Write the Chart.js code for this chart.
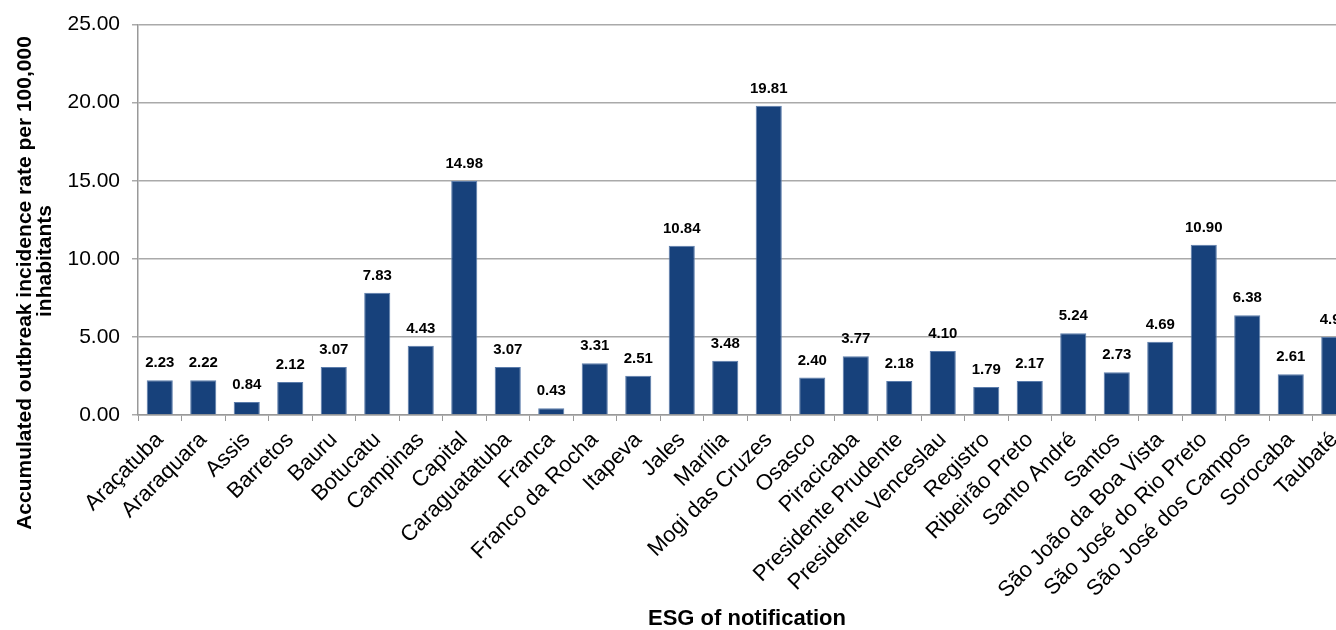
<!DOCTYPE html>
<html>
<head>
<meta charset="utf-8">
<script src="https://cdn.jsdelivr.net/npm/chart.js@4/dist/chart.umd.min.js"></script>
<style>
  html, body { margin: 0; padding: 0; background: #fff; overflow: hidden; }
  #wrap { position: relative; width: 1366px; height: 630px; }
</style>
</head>
<body>
<div id="wrap"><canvas id="myChart"></canvas></div>
<script>
// Regiões (ESG) e taxa acumulada por 100.000 habitantes
var regioes = [
  "Araçatuba", "Araraquara", "Assis", "Barretos", "Bauru", "Botucatu",
  "Campinas", "Capital", "Caraguatatuba", "Franca", "Franco da Rocha",
  "Itapeva", "Jales", "Marília", "Mogi das Cruzes", "Osasco", "Piracicaba",
  "Presidente Prudente", "Presidente Venceslau", "Registro", "Ribeirão Preto",
  "Santo André", "Santos", "São João da Boa Vista", "São José do Rio Preto",
  "São José dos Campos", "Sorocaba", "Taubaté"
];
var taxas = [
  2.23, 2.22, 0.84, 2.12, 3.07, 7.83,
  4.43, 14.98, 3.07, 0.43, 3.31,
  2.51, 10.84, 3.48, 19.81, 2.40, 3.77,
  2.18, 4.10, 1.79, 2.17,
  5.24, 2.73, 4.69, 10.90,
  6.38, 2.61, 4.99
];
var yMin = 0, yMax = 25, yStep = 5;
var tituloY = ["Accumulated outbreak incidence rate per 100,000", "inhabitants"];

var corBarra = "#17417b";
var fonte = "'Liberation Sans', Arial, sans-serif";

// petit plugin pour écrire la valeur au-dessus de chaque barre
var valeurBarres = {
  id: "valeurBarres",
  afterDatasetsDraw: function (chart) {
    var ctx = chart.ctx;
    var meta = chart.getDatasetMeta(0);
    ctx.save();
    ctx.font = "bold 15px " + fonte;
    ctx.fillStyle = "#000";
    ctx.textAlign = "center";
    ctx.textBaseline = "alphabetic";
    meta.data.forEach(function (bar, i) {
      ctx.fillText(taxas[i].toFixed(2), bar.x, bar.y - 13);
    });
    ctx.restore();
  },
};

// titre vertical sur deux lignes, dessiné à la main (centré sur la hauteur du graphique)
var titreVertical = {
  id: "titreVertical",
  afterDraw: function (chart) {
    var ctx = chart.ctx;
    ctx.save();
    ctx.font = "bold 21px " + fonte;
    ctx.fillStyle = "#000";
    ctx.textAlign = "center";
    ctx.textBaseline = "middle";
    ctx.translate(25, 283);
    ctx.rotate(-Math.PI / 2);
    ctx.fillText(tituloY[0], 0, 0);
    ctx.fillText(tituloY[1], 22, 20);
    ctx.restore();
  },
};

var ctx = document.getElementById("myChart").getContext("2d");
var myChart = new Chart(ctx, {
  type: "bar",
  data: {
    labels: regioes,
    datasets: [
      {
        data: taxas,
        backgroundColor: corBarra,
        borderColor: "#5b7cab",
        borderWidth: 1,
        barPercentage: 0.6,
        categoryPercentage: 1.0,
      },
    ],
  },
  options: {
    responsive: true,
    maintainAspectRatio: false,
    animation: false,
    layout: { padding: { top: 24, right: 10, bottom: 0, left: 0 } },
    plugins: {
      legend: { display: false },
      tooltip: { enabled: false },
    },
    scales: {
      x: {
        grid: {
          display: true,
          drawOnChartArea: false,
          drawTicks: true,
          tickLength: 6,
          color: "#999",
          offset: true,
        },
        border: { color: "#999", width: 1.5 },
        ticks: {
          color: "#000",
          font: { family: fonte, size: 22 },
          maxRotation: 45,
          minRotation: 45,
          autoSkip: false,
          padding: 6,
        },
        title: {
          display: true,
          text: "ESG of notification",
          color: "#000",
          font: { family: fonte, size: 22, weight: "bold", lineHeight: 1.0 },
          padding: { top: 0, bottom: 0 },
        },
        afterFit: function (scale) {
          scale.height = 215;
        },
      },
      y: {
        min: yMin,
        max: yMax,
        grid: {
          color: "#aaa",
          lineWidth: 1.5,
          tickLength: 6,
        },
        border: { color: "#999", width: 1.5 },
        ticks: {
          stepSize: yStep,
          color: "#000",
          padding: 12,
          font: { family: fonte, size: 21 },
          callback: function (v) {
            return v.toFixed(2);
          },
        },
        afterFit: function (scale) {
          scale.width = 138;
        },
      },
    },
  },
  plugins: [valeurBarres, titreVertical],
});
</script>
</body>
</html>
